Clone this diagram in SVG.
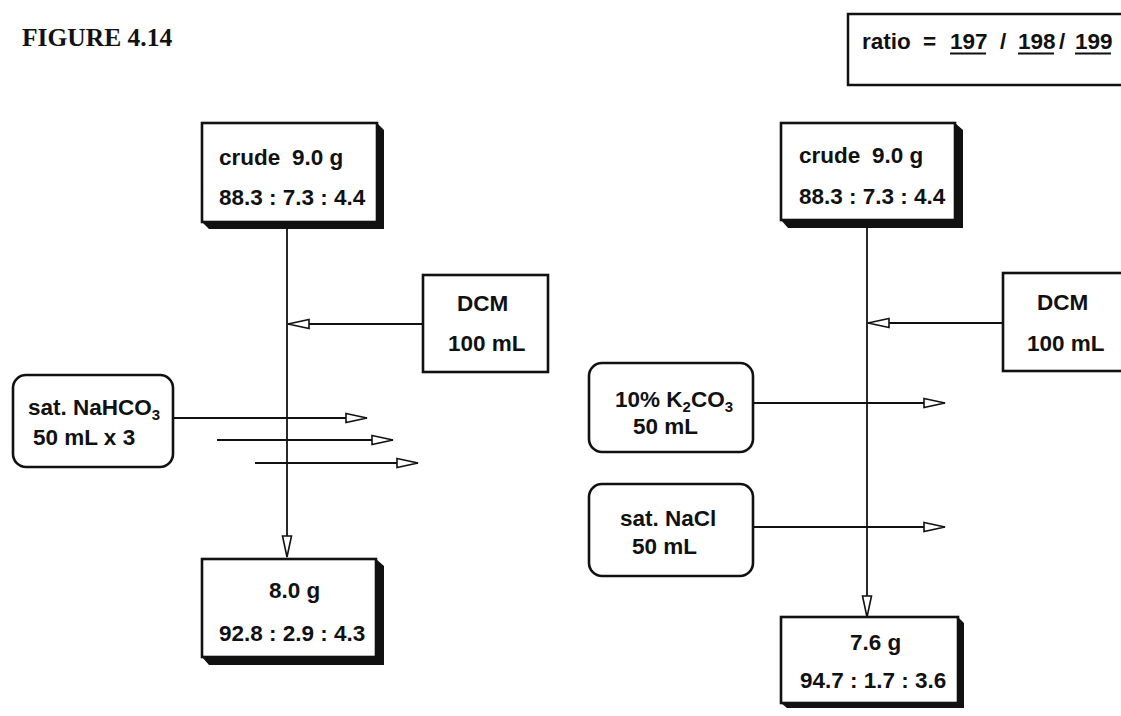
<svg xmlns="http://www.w3.org/2000/svg" width="1121" height="716" viewBox="0 0 1121 716">
<style>
.t{font-family:"Liberation Sans",Arial,sans-serif;font-weight:bold;font-size:22.5px;fill:#111}
.sub{font-size:15px}
.box{fill:#fff;stroke:#111;stroke-width:2.6}
.sh{fill:#111}
.ln{stroke:#111;stroke-width:1.8;fill:none}
</style>
<defs>
<marker id="ah" markerUnits="userSpaceOnUse" markerWidth="24" markerHeight="14" viewBox="-1 -1 24 14" refX="21" refY="6" orient="auto">
<path d="M0,1.5 L21,6 L0,10.5 z" fill="#fff" stroke="#111" stroke-width="1.6"/>
</marker>
</defs>
<rect width="1121" height="716" fill="#fff"/>
<text x="22" y="46" style="font-family:'Liberation Serif','Times New Roman',serif;font-weight:bold;font-size:25.5px;fill:#111">FIGURE 4.14</text>

<g id="ratio">
<rect x="848" y="14" width="290" height="71" fill="#fff" stroke="#111" stroke-width="2.5"/>
<text class="t" x="862" y="49">ratio</text>
<text class="t" x="923" y="49">=</text>
<text class="t" x="950" y="49">197</text>
<text class="t" x="1000" y="49">/</text>
<text class="t" x="1018" y="49">198</text>
<text class="t" x="1059" y="49">/</text>
<text class="t" x="1075" y="49">199</text>
<path d="M950,53.5H986M1018,53.5H1054M1075,53.5H1111" stroke="#111" stroke-width="2"/>
</g>

<g id="connectors">
<path class="ln" d="M287,222V557" marker-end="url(#ah)"/>
<path class="ln" d="M423,324H288" marker-end="url(#ah)"/>
<path class="ln" d="M173,418H367" marker-end="url(#ah)"/>
<path class="ln" d="M217,440H393" marker-end="url(#ah)"/>
<path class="ln" d="M255,463H418" marker-end="url(#ah)"/>
<path class="ln" d="M867,220V617" marker-end="url(#ah)"/>
<path class="ln" d="M1003,323H868" marker-end="url(#ah)"/>
<path class="ln" d="M753,403H945" marker-end="url(#ah)"/>
<path class="ln" d="M753,527H945" marker-end="url(#ah)"/>
</g>

<g id="crude-left">
<polygon class="sh" points="202,222 209,229 384,229 384,130 377,123 377,222"/>
<rect class="box" x="202" y="123" width="175" height="99"/>
<text class="t" x="219" y="165">crude</text>
<text class="t" x="292" y="165">9.0 g</text>
<text class="t" x="219" y="205">88.3 : 7.3 : 4.4</text>
</g>

<g id="dcm-left">
<rect class="box" x="423" y="275" width="125" height="97"/>
<text class="t" x="457" y="311">DCM</text>
<text class="t" x="448" y="351">100 mL</text>
</g>

<g id="nahco3">
<rect class="box" x="13" y="375" width="160" height="92" rx="13"/>
<text class="t" x="28" y="415">sat. NaHCO<tspan class="sub" dy="5">3</tspan></text>
<text class="t" x="33" y="445">50 mL x 3</text>
</g>

<g id="product-left">
<polygon class="sh" points="202,657 209,665 384,665 384,566 376,559 376,657"/>
<rect class="box" x="202" y="559" width="174" height="98"/>
<text class="t" x="269" y="598">8.0 g</text>
<text class="t" x="219" y="641">92.8 : 2.9 : 4.3</text>
</g>

<g id="crude-right">
<polygon class="sh" points="781,220 788,228 963,228 963,130 955,123 955,220"/>
<rect class="box" x="781" y="123" width="174" height="97"/>
<text class="t" x="799" y="163">crude</text>
<text class="t" x="872" y="163">9.0 g</text>
<text class="t" x="799" y="204">88.3 : 7.3 : 4.4</text>
</g>

<g id="dcm-right">
<rect class="box" x="1003" y="273" width="130" height="98"/>
<text class="t" x="1037" y="310">DCM</text>
<text class="t" x="1027" y="351">100 mL</text>
</g>

<g id="k2co3">
<rect class="box" x="589" y="363" width="164" height="89" rx="13"/>
<text class="t" x="615" y="407">10% K<tspan class="sub" dy="5">2</tspan><tspan dy="-5">CO</tspan><tspan class="sub" dy="5">3</tspan></text>
<text class="t" x="633" y="434">50 mL</text>
</g>

<g id="nacl">
<rect class="box" x="589" y="484" width="164" height="92" rx="13"/>
<text class="t" x="620" y="526">sat. NaCl</text>
<text class="t" x="632" y="554">50 mL</text>
</g>

<g id="product-right">
<polygon class="sh" points="781,703 787,708 964,708 964,623 958,617 958,703"/>
<rect class="box" x="781" y="617" width="177" height="86"/>
<text class="t" x="850" y="650">7.6 g</text>
<text class="t" x="800" y="688">94.7 : 1.7 : 3.6</text>
</g>
</svg>
